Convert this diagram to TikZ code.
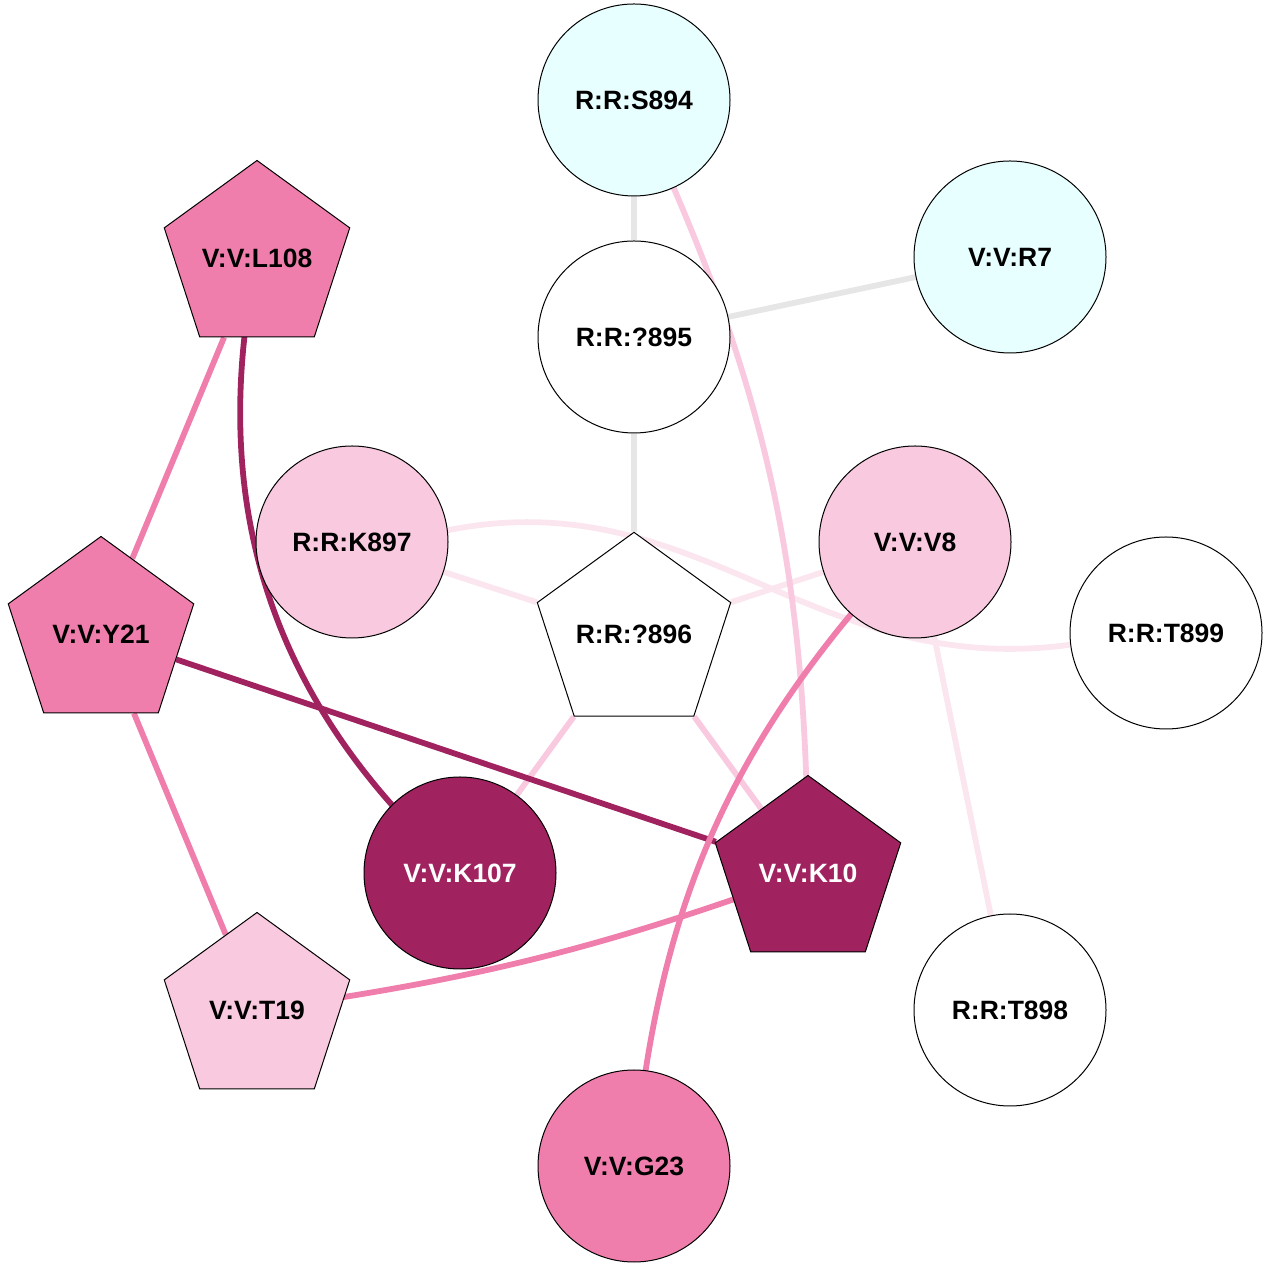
\documentclass[tikz,border=0pt]{standalone}
\usepackage{fontspec}
\setmainfont{Liberation Sans}
\usetikzlibrary{shapes.geometric,backgrounds}

\definecolor{rescyan}{HTML}{E8FFFF}
\definecolor{pinklight}{HTML}{F9C9DF}
\definecolor{pinkmid}{HTML}{F07EAD}
\definecolor{pinkdark}{HTML}{A0235F}
\definecolor{edgegray}{HTML}{E6E6E6}
\definecolor{edgefaint}{HTML}{FBE6EF}

\tikzset{
    res/.style={circle, draw=black, line width=1pt, minimum size=192pt, inner sep=0pt,
        font=\bfseries\fontsize{26.5}{30}\selectfont},
    pent/.style={res, regular polygon, regular polygon sides=5, minimum size=195pt},
    link/.style={line width=5.8pt},
}

\begin{document}
\begin{tikzpicture}[x=1pt,y=1pt]
                \useasboundingbox (0,0) rectangle (1268,1268);

                % residues
                \node[res, fill=rescyan] (S894) at (634,1168) {R:R:S894};
                \node[res, fill=rescyan] (R7) at (1010,1011) {V:V:R7};
                \node[res, fill=white] (Q895) at (634,931) {R:R:?895};
                \node[pent, fill=pinkmid] (L108) at (257,1010) {V:V:L108};
                \node[res, fill=pinklight] (K897) at (352,726) {R:R:K897};
                \node[res, fill=pinklight] (V8) at (915,726) {V:V:V8};
                \node[res, fill=white] (T899) at (1166,635) {R:R:T899};
                \node[pent, fill=white] (Q896) at (634,634) {R:R:?896};
                \node[pent, fill=pinkmid] (Y21) at (101,634) {V:V:Y21};
                \node[res, fill=pinkdark, text=white] (K107) at (460,395) {V:V:K107};
                \node[pent, fill=pinkdark, text=white] (K10) at (808,395) {V:V:K10};
                \node[pent, fill=pinklight] (T19) at (257,258) {V:V:T19};
                \node[res, fill=white] (T898) at (1010,258) {R:R:T898};
                \node[res, fill=pinkmid] (G23) at (634,102) {V:V:G23};

                % contacts
                \begin{pgfonlayer}{background}
                \draw[link, edgefaint] (K897) -- (Q896);
                \draw[link, edgefaint] (Q896) -- (V8);
                \draw[link, edgefaint] (V8) -- (T898);
                \draw[link, edgefaint] (K897.7) .. controls +(251,50) and +(-260,-35) .. (T899.187);
                \draw[link, pinklight] (Q896) -- (K107);
                \draw[link, pinklight] (Q896) -- (K10);
                \draw[link, pinklight] (S894.center) to[bend left=12.5] (K10.center);
                \draw[link, pinkdark] (L108.center) to[bend right=30] (K107.center);
                \draw[link, pinkdark] (Y21) -- (K10);
                \draw[link, pinkmid] (L108) -- (Y21);
                \draw[link, pinkmid] (Y21) -- (T19);
                \draw[link, pinkmid] (V8.center) to[bend right=19] (G23.center);
                \draw[link, pinkmid] (K10.center) to[bend left=6] (T19.center);
                \draw[link, edgegray] (S894) -- (Q895);
                \draw[link, edgegray] (Q895) -- (R7);
                \draw[link, edgegray] (Q895) -- (Q896);
                \end{pgfonlayer}
            \end{tikzpicture}
\end{document}
